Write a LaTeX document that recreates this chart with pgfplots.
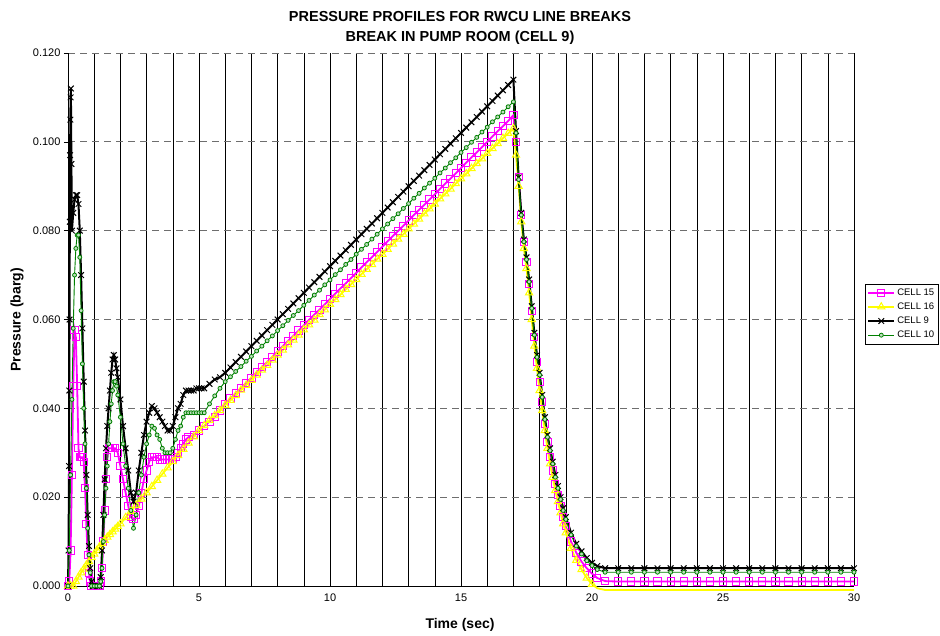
\documentclass[border=0pt]{standalone}
\usepackage{fontspec}
\setmainfont{Liberation Sans}
\usepackage{pgfplots}
\pgfplotsset{compat=1.18}
\definecolor{cmag}{RGB}{255,0,255}
\definecolor{cyel}{RGB}{255,255,0}
\definecolor{cgrn}{RGB}{0,128,0}
\definecolor{gridgray}{RGB}{110,110,110}

\begin{document}
\begin{tikzpicture}
\useasboundingbox (0,0) rectangle (940pt,636pt);
\begin{axis}[
  at={(68pt,50pt)}, anchor=south west,
  width=786pt, height=533pt, scale only axis,
  xmin=0, xmax=30, ymin=0, ymax=0.12,
  clip=false,
  axis x line*=bottom, axis y line*=left,
  axis line style={black, line width=0.8pt},
  xtick={0,5,10,15,20,25,30}, minor x tick num=4,
  ytick={0,0.02,0.04,0.06,0.08,0.1,0.12},
  scaled y ticks=false,
  yticklabel style={/pgf/number format/.cd, fixed, fixed zerofill, precision=3},
  /pgf/number format/assume math mode=true,
  tick label style={font=\fontsize{11}{13}\selectfont},
  xmajorgrids, xminorgrids, ymajorgrids,
  major x grid style={black, line width=0.6pt},
  minor x grid style={black, line width=0.6pt},
  major y grid style={gridgray, line width=0.9pt, dash pattern=on 7pt off 5pt},
  tick align=outside, major tick length=4pt, minor tick length=0pt,
  xtick style={draw=none},
  ytick style={black, line width=0.6pt},
  legend style={at={(1.0141,0.5666)}, anchor=north west, draw=black,
    font=\fontsize{9.5}{11}\selectfont, inner xsep=2pt, inner ysep=2.5pt,
    row sep=2pt},
  legend cell align=left,
  legend image code/.code={\draw[mark repeat=2, mark phase=2, #1] plot coordinates {(0pt,0pt) (13pt,0pt) (26pt,0pt)};},
]
% CELL 15
\addplot[cmag, line width=1.8pt, mark=square, mark size=3.6pt, mark options={line width=1pt, solid}] coordinates {
(0,0) (0.05,0.001) (0.10,0.008) (0.15,0.025) (0.20,0.045) (0.25,0.0576) (0.30,0.056) (0.35,0.045) (0.40,0.031) (0.45,0.029)
(0.50,0.029) (0.55,0.029) (0.60,0.028) (0.65,0.022) (0.70,0.014) (0.75,0.007) (0.80,0.003) (0.85,0.001) (0.90,0) (1.00,0)
(1.10,0) (1.20,0) (1.25,0.001) (1.30,0.004) (1.35,0.010) (1.40,0.017) (1.45,0.024) (1.50,0.029) (1.55,0.031) (1.60,0.031)
(1.70,0.031) (1.80,0.031) (1.90,0.030) (2.00,0.027) (2.10,0.024) (2.20,0.021) (2.30,0.018) (2.40,0.0155) (2.50,0.015) (2.60,0.016)
(2.70,0.018) (2.80,0.021) (2.90,0.024) (3.00,0.026) (3.10,0.028) (3.20,0.029) (3.30,0.029) (3.40,0.029) (3.50,0.0285) (3.60,0.0285)
(3.70,0.0285) (3.80,0.0285) (3.90,0.0285) (4.00,0.0285) (4.10,0.029) (4.20,0.030) (4.30,0.031) (4.40,0.032) (4.50,0.033) (4.60,0.0335)
(4.80,0.034) (5.00,0.035) (5.20,0.036) (5.40,0.037) (5.60,0.038) (5.80,0.0395) (6.00,0.041)
(6.2,0.0422) (6.4,0.0434) (6.6,0.0445) (6.8,0.0457) (7.0,0.0469) (7.2,0.0481) (7.4,0.0493) (7.6,0.0504) (7.8,0.0516) (8.0,0.0528)
(8.2,0.0540) (8.4,0.0552) (8.6,0.0563) (8.8,0.0575) (9.0,0.0587) (9.2,0.0599) (9.4,0.0611) (9.6,0.0622) (9.8,0.0634) (10.0,0.0646)
(10.2,0.0658) (10.4,0.0670) (10.6,0.0681) (10.8,0.0693) (11.0,0.0705) (11.2,0.0717) (11.4,0.0729) (11.6,0.0740) (11.8,0.0752) (12.0,0.0764)
(12.2,0.0776) (12.4,0.0788) (12.6,0.0799) (12.8,0.0811) (13.0,0.0823) (13.2,0.0835) (13.4,0.0847) (13.6,0.0858) (13.8,0.0870) (14.0,0.0882)
(14.2,0.0894) (14.4,0.0906) (14.6,0.0917) (14.8,0.0929) (15.0,0.0941) (15.2,0.0953) (15.4,0.0965) (15.6,0.0976) (15.8,0.0988) (16.0,0.1000)
(16.2,0.1012) (16.4,0.1024) (16.6,0.1035) (16.8,0.1047) (17.0,0.1060)
(17.1,0.100) (17.2,0.092) (17.3,0.0835) (17.4,0.0775) (17.5,0.073) (17.6,0.068) (17.7,0.062) (17.8,0.056) (17.9,0.0505) (18.0,0.046)
(18.1,0.0415) (18.2,0.0365) (18.3,0.0325) (18.4,0.029) (18.5,0.026) (18.6,0.023) (18.7,0.0205) (18.8,0.018) (18.9,0.0155) (19.0,0.0135)
(19.2,0.010) (19.4,0.0075) (19.6,0.0055) (19.8,0.004) (20.0,0.0028) (20.2,0.0018) (20.5,0.0011)
(21,0.001) (21.5,0.001) (22,0.001) (22.5,0.001) (23,0.001) (23.5,0.001) (24,0.001) (24.5,0.001) (25,0.001) (25.5,0.001)
(26,0.001) (26.5,0.001) (27,0.001) (27.5,0.001) (28,0.001) (28.5,0.001) (29,0.001) (29.5,0.001) (30,0.001)
};
\addlegendentry{CELL 15}
% CELL 16
\addplot[cyel, line width=1.8pt, mark=triangle, mark size=4.2pt, mark options={line width=1pt, solid}] coordinates {
(0,0) (0.10,0) (0.20,0) (0.30,0.001) (0.40,0.002) (0.50,0.003) (0.60,0.0038) (0.70,0.0047) (0.80,0.0055) (0.90,0.0064)
(1.00,0.0072) (1.10,0.008) (1.20,0.0088) (1.30,0.0096) (1.40,0.0103) (1.50,0.011) (1.60,0.0116) (1.70,0.0122) (1.80,0.0128) (1.90,0.0134)
(2.0,0.014) (2.2,0.0154) (2.4,0.0168) (2.6,0.0182) (2.8,0.0196) (3.0,0.021) (3.2,0.0224) (3.4,0.0238) (3.6,0.0252) (3.8,0.0266)
(4.0,0.028) (4.2,0.0294) (4.4,0.0308) (4.6,0.0322) (4.8,0.0336) (5.0,0.035)
(5.2,0.0361) (5.4,0.0373) (5.6,0.0384) (5.8,0.0395) (6.0,0.0407) (6.2,0.0418) (6.4,0.0429) (6.6,0.0441) (6.8,0.0452) (7.0,0.0463)
(7.2,0.0475) (7.4,0.0486) (7.6,0.0497) (7.8,0.0509) (8.0,0.0520) (8.2,0.0531) (8.4,0.0543) (8.6,0.0554) (8.8,0.0565) (9.0,0.0577)
(9.2,0.0588) (9.4,0.0599) (9.6,0.0611) (9.8,0.0622) (10.0,0.0634) (10.2,0.0645) (10.4,0.0656) (10.6,0.0668) (10.8,0.0679) (11.0,0.0690)
(11.2,0.0702) (11.4,0.0713) (11.6,0.0724) (11.8,0.0736) (12.0,0.0747) (12.2,0.0758) (12.4,0.0770) (12.6,0.0781) (12.8,0.0792) (13.0,0.0804)
(13.2,0.0815) (13.4,0.0826) (13.6,0.0838) (13.8,0.0849) (14.0,0.0860) (14.2,0.0872) (14.4,0.0883) (14.6,0.0894) (14.8,0.0906) (15.0,0.0917)
(15.2,0.0928) (15.4,0.0940) (15.6,0.0951) (15.8,0.0962) (16.0,0.0974) (16.2,0.0985) (16.4,0.0996) (16.6,0.1008) (16.8,0.1019) (17.0,0.1030)
(17.1,0.097) (17.2,0.090) (17.3,0.082) (17.4,0.076) (17.5,0.0715) (17.6,0.066) (17.7,0.060) (17.8,0.054) (17.9,0.049) (18.0,0.044)
(18.1,0.0395) (18.2,0.035) (18.3,0.031) (18.4,0.0275) (18.5,0.0245) (18.6,0.0215) (18.7,0.019) (18.8,0.0165) (18.9,0.014) (19.0,0.012)
(19.2,0.0085) (19.4,0.0058) (19.6,0.0037) (19.8,0.0018) (20.0,0.0004)
};
\addlegendentry{CELL 16}
\addplot[cyel, line width=1.8pt, forget plot] coordinates {(20.0,0.0004) (20.2,-0.0005) (20.5,-0.0009) (30,-0.0009)};
% CELL 9
\addplot[black, line width=2pt, mark=x, mark size=4pt, mark options={line width=1pt, solid}] coordinates {
(0,0) (0.02,0.008) (0.04,0.027) (0.05,0.044) (0.06,0.060) (0.07,0.082) (0.08,0.097) (0.09,0.105) (0.10,0.110) (0.11,0.112)
(0.13,0.095) (0.15,0.080) (0.20,0.084) (0.25,0.087) (0.30,0.088) (0.35,0.088) (0.40,0.086) (0.45,0.080) (0.50,0.070) (0.55,0.058)
(0.60,0.046) (0.65,0.035) (0.70,0.025) (0.75,0.016) (0.80,0.009) (0.85,0.004) (0.90,0.001) (0.95,0) (1.00,0) (1.10,0)
(1.20,0) (1.25,0.002) (1.30,0.008) (1.35,0.016) (1.40,0.024) (1.45,0.031) (1.50,0.036) (1.55,0.040) (1.60,0.044) (1.65,0.048)
(1.70,0.051) (1.75,0.052) (1.80,0.051) (1.85,0.049) (1.90,0.047) (2.00,0.042) (2.10,0.036) (2.20,0.031) (2.30,0.026) (2.40,0.021)
(2.50,0.019) (2.60,0.021) (2.70,0.026) (2.80,0.030) (2.90,0.034) (3.00,0.037) (3.10,0.039) (3.20,0.0405) (3.30,0.040) (3.40,0.039)
(3.50,0.038) (3.60,0.037) (3.70,0.036) (3.80,0.035) (3.90,0.035) (4.00,0.036) (4.10,0.038) (4.20,0.040) (4.30,0.041) (4.40,0.043)
(4.50,0.044) (4.60,0.044) (4.70,0.044) (4.80,0.044) (4.90,0.0445) (5.00,0.0445) (5.10,0.0445) (5.20,0.0445) (5.40,0.0455) (5.60,0.0465)
(5.80,0.047) (6.00,0.048)
(6.2,0.0492) (6.4,0.0504) (6.6,0.0516) (6.8,0.0528) (7.0,0.0540) (7.2,0.0552) (7.4,0.0564) (7.6,0.0576) (7.8,0.0588) (8.0,0.0600)
(8.2,0.0612) (8.4,0.0624) (8.6,0.0636) (8.8,0.0648) (9.0,0.0660) (9.2,0.0672) (9.4,0.0684) (9.6,0.0696) (9.8,0.0708) (10.0,0.0720)
(10.2,0.0732) (10.4,0.0744) (10.6,0.0756) (10.8,0.0768) (11.0,0.0780) (11.2,0.0792) (11.4,0.0804) (11.6,0.0816) (11.8,0.0828) (12.0,0.0840)
(12.2,0.0852) (12.4,0.0864) (12.6,0.0876) (12.8,0.0888) (13.0,0.0900) (13.2,0.0912) (13.4,0.0924) (13.6,0.0936) (13.8,0.0948) (14.0,0.0960)
(14.2,0.0972) (14.4,0.0984) (14.6,0.0996) (14.8,0.1008) (15.0,0.1020) (15.2,0.1032) (15.4,0.1044) (15.6,0.1056) (15.8,0.1068) (16.0,0.1080)
(16.2,0.1092) (16.4,0.1104) (16.6,0.1116) (16.8,0.1128) (17.0,0.1140)
(17.1,0.1024) (17.2,0.092) (17.3,0.084) (17.4,0.078) (17.5,0.074) (17.6,0.069) (17.7,0.063) (17.8,0.057) (17.9,0.052) (18.0,0.048)
(18.1,0.043) (18.2,0.038) (18.3,0.034) (18.4,0.031) (18.5,0.028) (18.6,0.025) (18.7,0.0225) (18.8,0.020) (18.9,0.0175) (19.0,0.0155)
(19.2,0.012) (19.4,0.0095) (19.6,0.0078) (19.8,0.0063) (20.0,0.0052) (20.2,0.0045) (20.5,0.0040)
(21,0.004) (21.5,0.004) (22,0.004) (22.5,0.004) (23,0.004) (23.5,0.004) (24,0.004) (24.5,0.004) (25,0.004) (25.5,0.004)
(26,0.004) (26.5,0.004) (27,0.004) (27.5,0.004) (28,0.004) (28.5,0.004) (29,0.004) (29.5,0.004) (30,0.004)
};
\addlegendentry{CELL 9}
% CELL 10
\addplot[cgrn, line width=0.9pt, mark=*, mark size=2pt, mark options={line width=0.8pt, solid, draw=cgrn, fill=cgrn!25}] coordinates {
(0,0) (0.05,0.008) (0.10,0.025) (0.15,0.042) (0.20,0.058) (0.25,0.070) (0.30,0.076) (0.35,0.079) (0.40,0.079) (0.45,0.074)
(0.50,0.062) (0.55,0.050) (0.60,0.040) (0.65,0.032) (0.70,0.022) (0.75,0.013) (0.80,0.007) (0.85,0.003) (0.90,0) (1.00,0)
(1.10,0) (1.20,0) (1.25,0.001) (1.30,0.004) (1.35,0.010) (1.40,0.016) (1.45,0.022) (1.50,0.027) (1.55,0.032) (1.60,0.037)
(1.65,0.041) (1.70,0.044) (1.75,0.046) (1.80,0.046) (1.85,0.045) (1.90,0.043) (2.00,0.038) (2.10,0.032) (2.20,0.027) (2.30,0.022)
(2.40,0.017) (2.50,0.013) (2.60,0.016) (2.70,0.021) (2.80,0.025) (2.90,0.029) (3.00,0.032) (3.10,0.034) (3.20,0.036) (3.30,0.0355)
(3.40,0.034) (3.50,0.033) (3.60,0.031) (3.70,0.030) (3.80,0.030) (3.90,0.030) (4.00,0.031) (4.10,0.033) (4.20,0.035) (4.30,0.036)
(4.40,0.038) (4.50,0.039) (4.60,0.039) (4.70,0.039) (4.80,0.039) (4.90,0.039) (5.00,0.039) (5.10,0.039) (5.20,0.039) (5.40,0.041)
(5.60,0.0428) (5.80,0.0445) (6.00,0.046)
(6.2,0.0471) (6.4,0.0483) (6.6,0.0494) (6.8,0.0506) (7.0,0.0517) (7.2,0.0529) (7.4,0.0540) (7.6,0.0552) (7.8,0.0563) (8.0,0.0575)
(8.2,0.0586) (8.4,0.0598) (8.6,0.0609) (8.8,0.0620) (9.0,0.0632) (9.2,0.0643) (9.4,0.0655) (9.6,0.0666) (9.8,0.0678) (10.0,0.0689)
(10.2,0.0701) (10.4,0.0712) (10.6,0.0724) (10.8,0.0735) (11.0,0.0747) (11.2,0.0758) (11.4,0.0769) (11.6,0.0781) (11.8,0.0792) (12.0,0.0804)
(12.2,0.0815) (12.4,0.0827) (12.6,0.0838) (12.8,0.0850) (13.0,0.0861) (13.2,0.0873) (13.4,0.0884) (13.6,0.0896) (13.8,0.0907) (14.0,0.0918)
(14.2,0.0930) (14.4,0.0941) (14.6,0.0953) (14.8,0.0964) (15.0,0.0976) (15.2,0.0987) (15.4,0.0999) (15.6,0.1010) (15.8,0.1022) (16.0,0.1033)
(16.2,0.1045) (16.4,0.1056) (16.6,0.1067) (16.8,0.1079) (17.0,0.1090)
(17.1,0.102) (17.2,0.0915) (17.3,0.0835) (17.4,0.0775) (17.5,0.0735) (17.6,0.0685) (17.7,0.0625) (17.8,0.0565) (17.9,0.0515) (18.0,0.0475)
(18.1,0.0425) (18.2,0.0375) (18.3,0.0335) (18.4,0.0305) (18.5,0.0275) (18.6,0.0245) (18.7,0.022) (18.8,0.0195) (18.9,0.017) (19.0,0.015)
(19.2,0.0115) (19.4,0.009) (19.6,0.0072) (19.8,0.0057) (20.0,0.0046) (20.2,0.0037) (20.5,0.0031)
(21,0.0031) (21.5,0.0031) (22,0.0031) (22.5,0.0031) (23,0.0031) (23.5,0.0031) (24,0.0031) (24.5,0.0031) (25,0.0031) (25.5,0.0031)
(26,0.0031) (26.5,0.0031) (27,0.0031) (27.5,0.0031) (28,0.0031) (28.5,0.0031) (29,0.0031) (29.5,0.0031) (30,0.0031)
};
\addlegendentry{CELL 10}
\end{axis}
\node[font=\bfseries\fontsize{14.5}{17}\selectfont] at (460pt,619pt) {PRESSURE PROFILES FOR RWCU LINE BREAKS};
\node[font=\bfseries\fontsize{14.5}{17}\selectfont] at (460pt,598pt) {BREAK IN PUMP ROOM (CELL 9)};
\node[font=\bfseries\fontsize{14}{16}\selectfont] at (460pt,11pt) {Time (sec)};
\node[font=\bfseries\fontsize{14}{16}\selectfont, rotate=90] at (17pt,316pt) {Pressure (barg)};
\end{tikzpicture}
\end{document}
